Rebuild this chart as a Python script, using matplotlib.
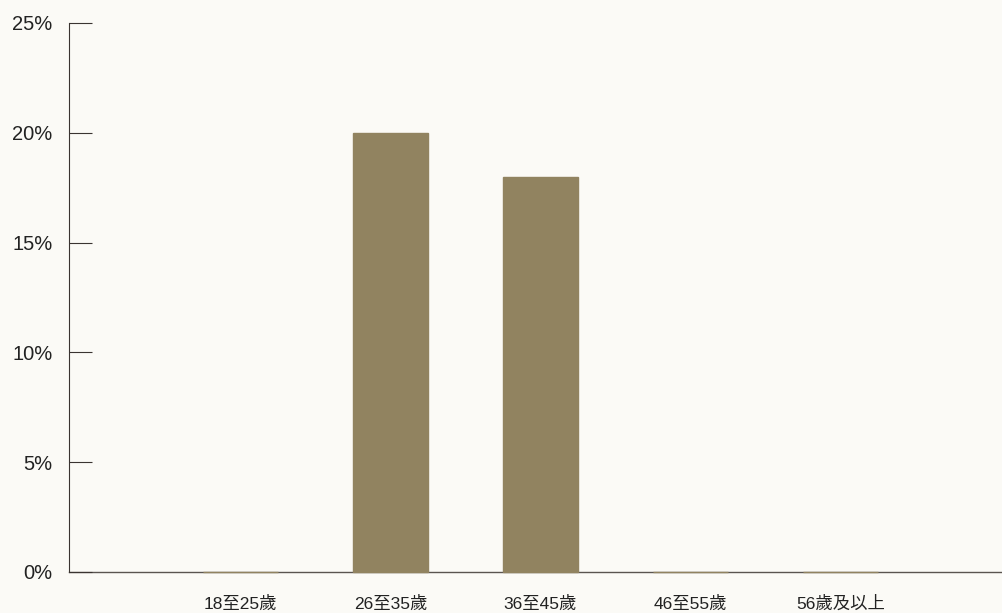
import matplotlib.pyplot as plt
from matplotlib.ticker import FuncFormatter

plt.rcParams['font.family'] = ['Liberation Sans', 'Noto Sans CJK TC', 'DejaVu Sans']

categories = ["18至25歲", "26至35歲", "36至45歲", "46至55歲", "56歲及以上"]
values = [0, 20, 18, 0, 0]
yticks = [0, 5, 10, 15, 20, 25]

bar_color = "#918360"
bg_color = "#fbfaf6"
axis_color = "#3a3431"

fig = plt.figure(figsize=(10.03, 6.13), dpi=100, facecolor=bg_color)
ax = fig.add_axes([0.0688, 0.0669, 0.9312, 0.8956])
ax.set_facecolor(bg_color)

x = list(range(len(categories)))
# edge line keeps zero bars visible as a thin gold stroke on the axis
ax.bar(x, values, width=0.5, color=bar_color, edgecolor=bar_color, linewidth=1,
       zorder=4, clip_on=False)

ax.set_xlim(-1.14, 5.08)
ax.set_ylim(0, 25)
ax.set_yticks(yticks)
ax.yaxis.set_major_formatter(FuncFormatter(lambda v, p: f"{v:.0f}%"))
ax.set_xticks(x)
ax.set_xticklabels(categories)

ax.tick_params(axis='y', direction='in', length=16.5, width=0.8, color=axis_color,
               labelsize=14.5, labelcolor="#222222", pad=12)
ax.tick_params(axis='x', length=0, labelsize=12.5, labelcolor="#222222", pad=17)

for s in ['top', 'right']:
    ax.spines[s].set_visible(False)
ax.spines['left'].set_color(axis_color)
ax.spines['left'].set_linewidth(0.8)
ax.spines['bottom'].set_color("#5a5450")
ax.spines['bottom'].set_linewidth(1.0)
ax.spines['bottom'].set_zorder(1)

fig.savefig("out.png", dpi=100, facecolor=bg_color)
